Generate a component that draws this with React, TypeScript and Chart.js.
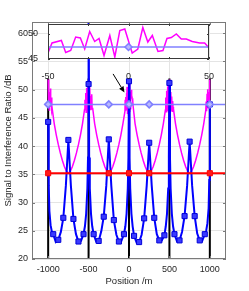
import React, { useEffect, useRef } from 'react';
import { Chart, registerables } from 'chart.js';

Chart.register(...registerables);

// ---------- data ----------
const xTicks = [-1000, -500, 0, 500, 1000];
const yTicks = [20, 25, 30, 35, 40, 45, 50, 55, 60];

const basePositions = [-1000, -500, 0, 500, 1000];
const baseLineBottom = 20;
const baseLineTop = 52;

const markerPositions = [-1000, -250, 0, 250, 1000];
const levelLineX = [-1000, 1200];
const redLevel = 35.2;
const lightBlueLevel = 47.4;

const blueMarkX = [
  -1000, -937.5, -875, -812.5, -750, -687.5, -625, -562.5,
  -500, -437.5, -375, -312.5, -250, -187.5, -125, -62.5,
  0, 62.5, 125, 187.5, 250, 312.5, 375, 437.5,
  500, 562.5, 625, 687.5, 750, 812.5, 875, 937.5, 1000,
];
const blueMarkY = [
  44.3, 24.4, 23.4, 27.3, 41.1, 27.1, 23.1, 24.4,
  51.0, 24.4, 23.2, 27.5, 41.2, 26.9, 23.1, 24.4,
  51.5, 24.1, 23.0, 27.2, 40.6, 27.3, 23.3, 24.2,
  51.2, 24.4, 23.3, 27.6, 40.8, 27.6, 23.3, 24.4, 47.4,
];

const blueLineX = [
  -1000, -993, -985, -970, -955, -937.5, -906, -875, -843, -812.5, -781, -750, -719, -687.5, -656, -625, -594, -562.5,
  -545, -530, -515, -507, -500, -493, -485, -470, -455,
  -437.5, -406, -375, -343, -312.5, -281, -250, -219, -187.5, -156, -125, -94, -62.5,
  -45, -30, -15, -7, 0, 7, 15, 30, 45,
  62.5, 94, 125, 156, 187.5, 219, 250, 281, 312.5, 344, 375, 406, 437.5,
  455, 470, 485, 493, 500, 507, 515, 530, 545,
  562.5, 594, 625, 656, 687.5, 719, 750, 781, 812.5, 844, 875, 906, 937.5,
  955, 970, 985, 993, 1000,
];
const blueLineY = [
  44.3, 33.0, 28.5, 26.0, 24.9, 24.4, 23.0, 23.4, 24.8, 27.3, 33.0, 41.1, 33.0, 27.1, 24.4, 23.1, 23.2, 24.4,
  25.8, 28.0, 32.5, 38.0, 75.0, 38.0, 32.5, 28.0, 25.8,
  24.4, 23.1, 23.2, 24.9, 27.5, 33.0, 41.2, 33.0, 26.9, 24.3, 23.1, 23.2, 24.4,
  25.8, 28.0, 32.5, 38.0, 51.5, 38.0, 32.5, 28.0, 25.8,
  24.1, 22.9, 23.0, 24.3, 27.2, 33.0, 40.6, 33.0, 27.3, 24.4, 23.3, 23.3, 24.2,
  25.8, 28.0, 32.5, 38.0, 51.2, 38.0, 32.5, 28.0, 25.8,
  24.4, 23.1, 23.3, 24.8, 27.6, 33.0, 40.8, 33.0, 27.6, 24.5, 23.3, 23.2, 24.4,
  25.0, 26.3, 29.0, 34.0, 47.4,
];

const magentaX = [
  -1000, -996, -992, -987, -982, -977, -972, -966, -960, -955, -950,
  -925, -900, -875, -850, -825, -800, -775, -750, -725, -700, -675, -650, -625, -600, -575,
  -550, -545, -540, -535, -530, -524, -519, -514, -509, -505, -501, -497, -493, -488, -483, -478, -473, -467, -461, -456, -450,
  -425, -400, -375, -350, -325, -300, -275, -250, -225, -200, -175, -150, -125, -100, -75,
  -50, -47.5, -41.7, -39, -35.9, -32.8, -29.9, -27.2, -24.1, -21, -18.3, -15.2, -11.6, -8.5, -5.4, -2.3,
  2.3, 5.8, 8.9, 12, 14.8, 18.3, 21.4, 23.9, 26.6, 29.7, 32.8, 35.9, 39.6, 44.2, 47.3, 50,
  75, 100, 125, 150, 175, 200, 225, 250, 275, 300, 325, 350, 375, 400, 425,
  450, 455, 461, 466, 471, 476, 481, 486, 491, 495, 499, 503, 507, 512, 517, 522, 528, 534, 540, 545, 550,
  575, 600, 625, 650, 675, 700, 725, 750, 775, 800, 825, 850, 875, 900, 925,
  950, 955, 960, 966, 971, 976, 981, 986, 991, 995, 1000,
];
const magentaY = [
  51.8, 47.2, 50.6, 46.4, 49.6, 47.6, 50.2, 47.0, 48.6, 46.3, 46.6,
  44.0, 42.0, 40.3, 38.8, 37.5, 36.4, 35.6, 35.2, 35.6, 36.4, 37.5, 38.8, 40.3, 42.0, 44.0,
  46.5, 48.2, 46.8, 49.4, 46.0, 50.3, 47.4, 49.0, 45.9, 50.8, 51.9, 46.6, 49.9, 47.2, 50.4, 46.5, 48.9, 47.8, 49.2, 46.6, 46.8,
  44.0, 42.0, 40.3, 38.8, 37.5, 36.4, 35.6, 35.2, 35.6, 36.4, 37.5, 38.8, 40.3, 42.0, 44.0,
  46.2, 48.2, 48.7, 46.3, 46.7, 49.4, 49.2, 47.0, 50.5, 48.5, 49.1, 45.7, 49.7, 45.4, 50.7, 51.0,
  46.2, 47.0, 51.3, 48.4, 49.7, 46.5, 46.7, 49.1, 49.3, 50.0, 49.0, 49.0, 48.5, 48.2, 48.2, 47.2,
  44.0, 42.0, 40.3, 38.8, 37.5, 36.4, 35.6, 35.2, 35.6, 36.4, 37.5, 38.8, 40.3, 42.0, 44.0,
  46.4, 48.6, 46.1, 49.8, 47.3, 50.6, 46.2, 49.3, 47.0, 50.9, 51.8, 47.5, 50.2, 46.4, 49.6, 47.1, 48.8, 46.2, 48.0, 47.0, 46.6,
  44.0, 42.0, 40.3, 38.8, 37.5, 36.4, 35.6, 35.2, 35.6, 36.4, 37.5, 38.8, 40.3, 42.0, 44.0,
  46.4, 47.9, 46.2, 49.3, 47.0, 50.1, 46.8, 49.6, 47.4, 50.8, 51.8,
];

// inset (zoom around x = 0)
const insetXTicks = [-50, -25, 0, 25, 50];
const insetXLabels = [-50, 0, 50];
const insetYTicks = [45, 50];
const insetMarkerX = [0];
const insetLineX = [-50, 50];
const insetX = [
  -50, -47.5, -41.7, -39, -35.9, -32.8, -29.9, -27.2, -24.1, -21, -18.3, -15.2, -11.6, -8.5, -5.4, -2.3,
  2.3, 5.8, 8.9, 12, 14.8, 18.3, 21.4, 23.9, 26.6, 29.7, 32.8, 35.9, 39.6, 44.2, 47.3, 50,
];
const insetY = [
  46.2, 48.2, 48.7, 46.3, 46.7, 49.4, 49.2, 47.0, 50.5, 48.5, 49.1, 45.7, 49.7, 45.4, 50.7, 51.0,
  46.2, 47.0, 51.3, 48.4, 49.7, 46.5, 46.7, 49.1, 49.3, 50.0, 49.0, 49.0, 48.5, 48.2, 48.2, 47.2,
];

// annotation arrow (data coordinates)
const arrowFrom = { x: -197, y: 52.8 };
const arrowTo = { x: -56, y: 49.5 };

// ---------- helpers ----------
const FONT = 'Liberation Sans, Arial, sans-serif';
const TXT = '#262626';
const pts = (xs: number[], ys: number[]) => xs.map((x, i) => ({ x, y: ys[i] }));
const level = (xs: number[], v: number) => xs.map((x) => ({ x, y: v }));
const plain = (v: any) => String(v);

const framePlugin = (id: string, color: string, tickLen: number, xt: number[], yt: number[]) => ({
  id,
  afterDatasetsDraw(chart: any) {
    const { ctx, chartArea: a, scales } = chart;
    ctx.save();
    ctx.strokeStyle = color;
    ctx.lineWidth = 1;
    ctx.beginPath();
    for (const v of xt) {
      const px = Math.round(scales.x.getPixelForValue(v)) + 0.5;
      ctx.moveTo(px, a.bottom);
      ctx.lineTo(px, a.bottom - tickLen);
      ctx.moveTo(px, a.top);
      ctx.lineTo(px, a.top + tickLen);
    }
    for (const v of yt) {
      const py = Math.round(scales.y.getPixelForValue(v)) + 0.5;
      ctx.moveTo(a.left, py);
      ctx.lineTo(a.left + tickLen, py);
      ctx.moveTo(a.right, py);
      ctx.lineTo(a.right - tickLen, py);
    }
    ctx.stroke();
    ctx.strokeRect(a.left + 0.5, a.top + 0.5, a.right - a.left - 1, a.bottom - a.top - 1);
    ctx.restore();
  },
});

const arrowPlugin = {
  id: 'arrow',
  afterDatasetsDraw(chart: any) {
    const { ctx, scales } = chart;
    const x1 = scales.x.getPixelForValue(arrowFrom.x);
    const y1 = scales.y.getPixelForValue(arrowFrom.y);
    const x2 = scales.x.getPixelForValue(arrowTo.x);
    const y2 = scales.y.getPixelForValue(arrowTo.y);
    const ang = Math.atan2(y2 - y1, x2 - x1);
    const hl = 6;
    const hw = 2.6;
    const bx = x2 - hl * Math.cos(ang);
    const by = y2 - hl * Math.sin(ang);
    ctx.save();
    ctx.strokeStyle = '#000';
    ctx.fillStyle = '#000';
    ctx.lineWidth = 1;
    ctx.beginPath();
    ctx.moveTo(x1, y1);
    ctx.lineTo(bx, by);
    ctx.stroke();
    ctx.beginPath();
    ctx.moveTo(x2, y2);
    ctx.lineTo(bx + hw * Math.sin(ang), by - hw * Math.cos(ang));
    ctx.lineTo(bx - hw * Math.sin(ang), by + hw * Math.cos(ang));
    ctx.closePath();
    ctx.fill();
    ctx.restore();
  },
};

const whiteAreaPlugin = {
  id: 'whiteArea',
  beforeDraw(chart: any) {
    const { ctx, chartArea: a } = chart;
    ctx.save();
    ctx.fillStyle = '#ffffff';
    ctx.fillRect(a.left, a.top, a.right - a.left, a.bottom - a.top);
    ctx.restore();
  },
};

export default function App() {
  const mainRef = useRef<HTMLCanvasElement>(null);
  const insetRef = useRef<HTMLCanvasElement>(null);

  useEffect(() => {
    const blackData: any[] = [];
    basePositions.forEach((x) => {
      blackData.push({ x, y: baseLineBottom }, { x, y: baseLineTop }, { x, y: null });
    });

    const main = new Chart(mainRef.current as HTMLCanvasElement, {
      type: 'scatter',
      data: {
        datasets: [
          {
            data: level(markerPositions, lightBlueLevel),
            showLine: false,
            pointStyle: 'rectRot',
            pointRadius: 3.5,
            pointBackgroundColor: '#b8b8ff',
            pointBorderColor: '#7f7fff',
            pointBorderWidth: 1.5,
          },
          {
            data: level(levelLineX, lightBlueLevel),
            showLine: true,
            borderColor: '#8080ff',
            borderWidth: 1.5,
            pointRadius: 0,
          },
          {
            data: level(markerPositions, redLevel),
            showLine: false,
            pointStyle: 'rect',
            pointRadius: 3.6,
            pointBackgroundColor: '#ff1a1a',
            pointBorderColor: '#ff0000',
            pointBorderWidth: 1,
          },
          {
            data: level(levelLineX, redLevel),
            showLine: true,
            borderColor: '#ff0000',
            borderWidth: 2,
            pointRadius: 0,
          },
          {
            data: pts(blueMarkX, blueMarkY),
            showLine: false,
            pointStyle: 'rect',
            pointRadius: 3.6,
            pointBackgroundColor: '#3a3aff',
            pointBorderColor: '#0000d8',
            pointBorderWidth: 1,
          },
          {
            data: pts(blueLineX, blueLineY),
            showLine: true,
            borderColor: '#0000ff',
            borderWidth: 2,
            pointRadius: 0,
          },
          {
            data: pts(magentaX, magentaY),
            showLine: true,
            borderColor: '#ff00ff',
            borderWidth: 1.5,
            pointRadius: 0,
          },
          {
            data: blackData,
            showLine: true,
            spanGaps: false,
            borderColor: '#000000',
            borderWidth: 2,
            pointRadius: 0,
          },
        ],
      },
      options: {
        responsive: false,
        animation: false,
        devicePixelRatio: 1,
        layout: { padding: { left: 0, top: 22, right: 23, bottom: 0 } },
        plugins: { legend: { display: false }, tooltip: { enabled: false } },
        scales: {
          x: {
            type: 'linear',
            min: -1200,
            max: 1200,
            afterBuildTicks: (s: any) => {
              s.ticks = xTicks.map((v) => ({ value: v }));
            },
            afterFit: (s: any) => {
              s.height = 32;
            },
            grid: { color: '#e4e4e4', drawTicks: false },
            border: { display: false },
            ticks: { font: { family: FONT, size: 9 }, color: TXT, padding: 5, maxRotation: 0, callback: plain },
            title: {
              display: true,
              text: 'Position /m',
              font: { family: FONT, size: 9.5 },
              color: TXT,
              padding: { top: 0, bottom: 4 },
            },
          },
          y: {
            type: 'linear',
            min: 20,
            max: 62,
            afterBuildTicks: (s: any) => {
              s.ticks = yTicks.map((v) => ({ value: v }));
            },
            afterFit: (s: any) => {
              s.width = 32;
            },
            grid: { color: '#e4e4e4', drawTicks: false },
            border: { display: false },
            ticks: { font: { family: FONT, size: 9 }, color: TXT, padding: 4, callback: plain },
            title: {
              display: true,
              text: 'Signal to Interference Ratio /dB',
              font: { family: FONT, size: 9.5 },
              color: TXT,
              padding: { top: 3, bottom: 0 },
            },
          },
        },
      },
      plugins: [framePlugin('mainFrame', '#7a7a7a', 3, xTicks, yTicks), arrowPlugin],
    } as any);

    const inset = new Chart(insetRef.current as HTMLCanvasElement, {
      type: 'scatter',
      data: {
        datasets: [
          {
            data: level(insetMarkerX, lightBlueLevel),
            showLine: false,
            pointStyle: 'rectRot',
            pointRadius: 3.5,
            pointBackgroundColor: '#b8b8ff',
            pointBorderColor: '#7f7fff',
            pointBorderWidth: 1.5,
          },
          {
            data: level(insetLineX, lightBlueLevel),
            showLine: true,
            borderColor: '#8080ff',
            borderWidth: 1.5,
            pointRadius: 0,
          },
          {
            data: pts(insetX, insetY),
            showLine: true,
            borderColor: '#ff00ff',
            borderWidth: 1.5,
            pointRadius: 0,
          },
        ],
      },
      options: {
        responsive: false,
        animation: false,
        devicePixelRatio: 1,
        layout: { padding: { left: 0, top: 24, right: 40, bottom: 0 } },
        plugins: { legend: { display: false }, tooltip: { enabled: false } },
        scales: {
          x: {
            type: 'linear',
            min: -50,
            max: 50,
            afterBuildTicks: (s: any) => {
              s.ticks = insetXTicks.map((v) => ({ value: v }));
            },
            afterFit: (s: any) => {
              s.height = 232;
            },
            grid: { display: false },
            border: { display: false },
            ticks: {
              font: { family: FONT, size: 9 },
              color: TXT,
              padding: 4,
              maxRotation: 0,
              autoSkip: false,
              callback: (v: any) => (insetXLabels.includes(Number(v)) ? String(v) : ''),
            },
          },
          y: {
            type: 'linear',
            min: 45,
            max: 52,
            afterBuildTicks: (s: any) => {
              s.ticks = insetYTicks.map((v) => ({ value: v }));
            },
            afterFit: (s: any) => {
              s.width = 48;
            },
            grid: { display: false },
            border: { display: false },
            ticks: { font: { family: FONT, size: 9 }, color: TXT, padding: 2, callback: plain },
          },
        },
      },
      plugins: [whiteAreaPlugin, framePlugin('insetFrame', '#3a3a3a', 2, insetXTicks, insetYTicks)],
    } as any);

    return () => {
      main.destroy();
      inset.destroy();
    };
  }, []);

  return (
    <div style={{ position: 'fixed', left: 0, top: 0, width: 249, height: 291, background: '#fff' }}>
      <canvas ref={mainRef} width={249} height={291} style={{ position: 'absolute', left: 0, top: 0 }} />
      <canvas ref={insetRef} width={249} height={291} style={{ position: 'absolute', left: 0, top: 0 }} />
    </div>
  );
}
